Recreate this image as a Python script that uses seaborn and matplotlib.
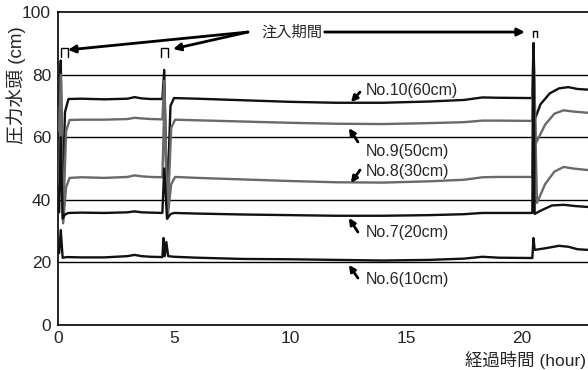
import matplotlib
matplotlib.use("Agg")
import matplotlib.pyplot as plt
import seaborn as sns
import pandas as pd

# ---- data (hour, pressure head cm) ----
no10_t = [0.05, 0.12, 0.2, 0.3, 0.45, 1.0, 2.0, 3.0, 3.3, 3.6, 4.0, 4.5, 4.58, 4.7, 4.85, 5.0,
          6, 8, 10, 12, 14, 16, 17.5, 18.3, 19, 20.45, 20.5, 20.55, 20.8, 21.2, 21.6, 22.0, 22.4, 22.85]
no10_v = [70, 84.5, 40, 68, 72.2, 72.3, 72.1, 72.3, 72.8, 72.4, 72.2, 72.2, 81.5, 38, 70, 72.5,
          72.3, 71.8, 71.3, 71.0, 71.0, 71.4, 71.9, 72.7, 72.6, 72.5, 90, 65.5, 70.5, 74, 75.6, 76.0, 75.4, 75.2]

no9_t = [0.05, 0.12, 0.22, 0.35, 0.5, 1, 2, 3, 3.3, 3.6, 4, 4.5, 4.58, 4.72, 4.88, 5.05,
         6, 8, 10, 12, 14, 16, 17.5, 18.3, 19, 20.45, 20.5, 20.6, 21.0, 21.4, 21.8, 22.2, 22.85]
no9_v = [62, 80, 33, 62, 65.5, 65.6, 65.6, 65.8, 66.2, 66.0, 65.8, 65.7, 78, 34, 63, 65.6,
         65.4, 65.0, 64.6, 64.3, 64.2, 64.5, 64.8, 65.3, 65.3, 65.2, 90, 58, 64, 67.5, 68.6, 68.2, 67.8]

no8_t = [0.05, 0.12, 0.22, 0.35, 0.5, 1, 2, 3, 3.3, 3.6, 4, 4.5, 4.58, 4.72, 4.88, 5.05,
         6, 8, 10, 12, 14, 16, 17.5, 18.3, 19, 20.45, 20.5, 20.65, 21.0, 21.4, 21.8, 22.2, 22.85]
no8_v = [45, 70, 32.5, 44, 47, 47.2, 47.0, 47.3, 47.8, 47.5, 47.3, 47.2, 70, 34, 45, 47.3,
         47.0, 46.5, 46.0, 45.6, 45.5, 45.9, 46.4, 47.2, 47.3, 47.3, 90, 39, 45, 49, 50.5, 50.0, 49.5]

no7_t = [0.05, 0.12, 0.2, 0.3, 0.45, 1, 2, 3, 3.3, 3.6, 4, 4.5, 4.58, 4.7, 4.85, 5.0,
         6, 8, 10, 12, 14, 16, 17.5, 18.3, 19, 20.45, 20.5, 20.55, 20.8, 21.3, 21.8, 22.3, 22.85]
no7_v = [36, 60, 34, 35.3, 35.8, 35.9, 35.8, 36.0, 36.3, 36.0, 35.9, 35.8, 50, 34, 35.4, 35.8,
         35.6, 35.3, 35.1, 34.9, 34.9, 35.1, 35.4, 35.8, 35.8, 35.8, 90, 35.5, 36.5, 38.2, 38.4, 38.0, 37.7]

no6_t = [0.05, 0.12, 0.2, 0.4, 1, 2, 3, 3.3, 3.6, 4, 4.5, 4.55, 4.6, 4.67, 4.75, 5.0,
         6, 8, 10, 12, 14, 16, 17.5, 18.3, 19, 20.45, 20.5, 20.55, 21.0, 21.6, 22.0, 22.4, 22.85]
no6_v = [23, 30.3, 21.5, 21.7, 21.6, 21.6, 22.0, 22.4, 22.0, 21.8, 21.7, 27.8, 22, 26.5, 22, 21.8,
         21.5, 21.1, 21.0, 20.8, 20.6, 20.8, 21.2, 21.8, 21.5, 21.4, 27.8, 24, 24.5, 25.3, 25.0, 24.2, 24.0]

series_names = ["No.10(60cm)", "No.9(50cm)", "No.8(30cm)", "No.7(20cm)", "No.6(10cm)"]
series_t = [no10_t, no9_t, no8_t, no7_t, no6_t]
series_v = [no10_v, no9_v, no8_v, no7_v, no6_v]
series_colors = ["#111111", "#6a6a6a", "#6a6a6a", "#111111", "#111111"]

# label positions (hour, cm): text anchor, arrow tail, arrow head
label_xy = [(13.28, 74.8), (13.28, 55.3), (13.28, 48.9), (13.28, 29.4), (13.28, 14.4)]
arrow_tail = [(13.02, 74.4), (12.93, 58.5), (13.02, 49.5), (12.93, 29.7), (12.93, 15.0)]
arrow_head = [(12.63, 71.2), (12.54, 62.9), (12.63, 45.4), (12.54, 34.2), (12.54, 19.2)]

# injection periods
inj_start = [0.13, 4.46, 20.48]
inj_end = [0.43, 4.76, 20.65]
inj_top = [88.5, 88.5, 93.9]
inj_bot = [85.6, 85.6, 92.0]

xticks = [0, 5, 10, 15, 20]
yticks = [0, 20, 40, 60, 80, 100]

rows = []
for name, ts, vs in zip(series_names, series_t, series_v):
    for t, v in zip(ts, vs):
        rows.append({"series": name, "t": t, "v": v})
df = pd.DataFrame(rows)

sns.set_style("white")
plt.rcParams["font.family"] = ["Liberation Sans", "Noto Sans CJK JP", "DejaVu Sans"]

fig = plt.figure(figsize=(5.88, 3.70), dpi=100)
ax = fig.add_axes([58 / 588, 45 / 370, 530 / 588, 313 / 370])

for y in [20, 40, 60, 80]:
    ax.axhline(y, color="black", lw=1.0, zorder=1)

sns.lineplot(data=df, x="t", y="v", hue="series", palette=dict(zip(series_names, series_colors)),
             estimator=None, sort=False, legend=False, lw=1.7, ax=ax, zorder=3)

ax.set_xlim(0, 22.85)
ax.set_ylim(0, 100)
ax.set_xticks(xticks)
ax.set_yticks(yticks)
ax.tick_params(axis="x", direction="in", length=4, width=1, labelsize=12.5, pad=4, color="black")
ax.tick_params(axis="y", direction="in", length=0, labelsize=12.5, pad=5)
for s in ["left", "bottom", "top"]:
    ax.spines[s].set_visible(True)
    ax.spines[s].set_color("black")
    ax.spines[s].set_linewidth(1.2)
ax.spines["right"].set_visible(False)
ax.set_xlabel("")
ax.set_ylabel("")

fig.text(16 / 588, 1 - 85 / 370, "圧力水頭 (cm)", rotation=90, ha="center", va="center", fontsize=13.5)
fig.text(586 / 588, 1 - 360 / 370, "経過時間 (hour)", ha="right", va="center", fontsize=12.5)

for name, (tx, ty), tail, head in zip(series_names, label_xy, arrow_tail, arrow_head):
    ax.text(tx, ty, name, ha="left", va="center", fontsize=11.5)
    ax.annotate("", xy=head, xytext=tail,
                arrowprops=dict(arrowstyle="-|>", lw=2.0, color="black", mutation_scale=9,
                                shrinkA=0, shrinkB=0))

for s0, s1, top, bot in zip(inj_start, inj_end, inj_top, inj_bot):
    ax.plot([s0, s0, s1, s1], [bot, top, top, bot], color="black", lw=1.0, zorder=4)

ax.text(8.79, 93.3, "注入期間", ha="left", va="center", fontsize=11)
for head in [(0.43, 87.9), (4.96, 88.2)]:
    ax.annotate("", xy=head, xytext=(8.19, 93.6),
                arrowprops=dict(arrowstyle="-|>", lw=2.0, color="black", mutation_scale=11,
                                shrinkA=0, shrinkB=0))
ax.annotate("", xy=(20.13, 93.6), xytext=(11.5, 93.6),
            arrowprops=dict(arrowstyle="-|>", lw=2.0, color="black", mutation_scale=11,
                            shrinkA=0, shrinkB=0))

fig.savefig("out.png", dpi=100)
